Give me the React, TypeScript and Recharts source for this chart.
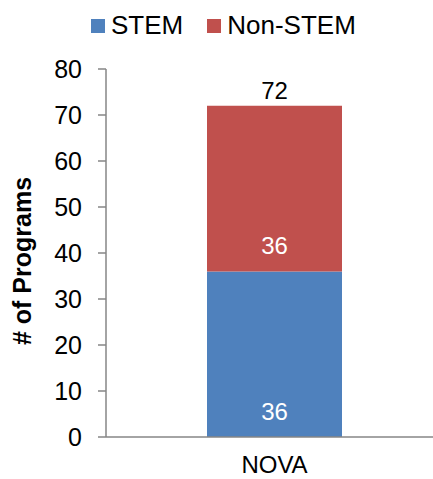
import React from 'react'
import { BarChart, Bar, XAxis, YAxis, LabelList } from 'recharts'

const categories = ['NOVA']
const stemValues = [36]
const nonStemValues = [36]
const totals = [72]
const yTicks = [0, 10, 20, 30, 40, 50, 60, 70, 80]

const SERIES = [
  { key: 'stem', name: 'STEM', color: '#4F81BD' },
  { key: 'nonStem', name: 'Non-STEM', color: '#C0504D' },
]

const FONT = '"Liberation Sans", Arial, sans-serif'
const AXIS = '#868686'

const data = categories.map((c, i) => ({
  name: c,
  stem: stemValues[i],
  nonStem: nonStemValues[i],
  total: totals[i],
}))

function YLabel() {
  return (
    <text
      x={31}
      y={261}
      transform="rotate(-90, 31, 261)"
      textAnchor="middle"
      fontFamily={FONT}
      fontSize={25}
      fontWeight={700}
      fill="#000"
    >
      # of Programs
    </text>
  )
}

export default function App() {
  return (
    <div style={{ position: 'absolute', left: 0, top: 0, width: 433, height: 479, background: '#fff', fontFamily: FONT }}>
      <div style={{ position: 'absolute', top: 10, left: 91, display: 'flex', alignItems: 'center', fontSize: 26, color: '#000', whiteSpace: 'nowrap' }}>
        {SERIES.map(s => (
          <div key={s.key} style={{ display: 'flex', alignItems: 'center', marginRight: 24 }}>
            <div style={{ width: 14, height: 14, background: s.color, marginRight: 6 }} />
            <span>{s.name}</span>
          </div>
        ))}
      </div>
      <BarChart
        width={433}
        height={479}
        data={data}
        margin={{ top: 69, right: 0, bottom: 0, left: 0 }}
        style={{ position: 'absolute', left: 0, top: 0 }}
      >
        <XAxis
          dataKey="name"
          height={42}
          padding={{ left: 10, right: 0 }}
          axisLine={{ stroke: AXIS, strokeWidth: 1.5 }}
          tickLine={false}
          tickSize={0}
          tickMargin={19}
          tick={{ fill: '#000', fontSize: 24, fontFamily: FONT }}
        />
        <YAxis
          width={106}
          domain={[0, 80]}
          ticks={yTicks}
          interval={0}
          axisLine={{ stroke: AXIS, strokeWidth: 1.5 }}
          tickLine={{ stroke: AXIS, strokeWidth: 1.5 }}
          tickSize={8}
          tickMargin={16}
          tick={{ fill: '#000', fontSize: 25, fontFamily: FONT }}
          label={<YLabel />}
        />
        <Bar dataKey="stem" stackId="a" fill={SERIES[0].color} barSize={135} isAnimationActive={false}>
          <LabelList dataKey="stem" position="insideBottom" offset={17} fill="#fff" fontSize={24} fontFamily={FONT} />
        </Bar>
        <Bar dataKey="nonStem" stackId="a" fill={SERIES[1].color} barSize={135} isAnimationActive={false}>
          <LabelList dataKey="nonStem" position="insideBottom" offset={17} fill="#fff" fontSize={24} fontFamily={FONT} />
          <LabelList dataKey="total" position="top" offset={7} fill="#000" fontSize={24} fontFamily={FONT} />
        </Bar>
      </BarChart>
    </div>
  )
}
